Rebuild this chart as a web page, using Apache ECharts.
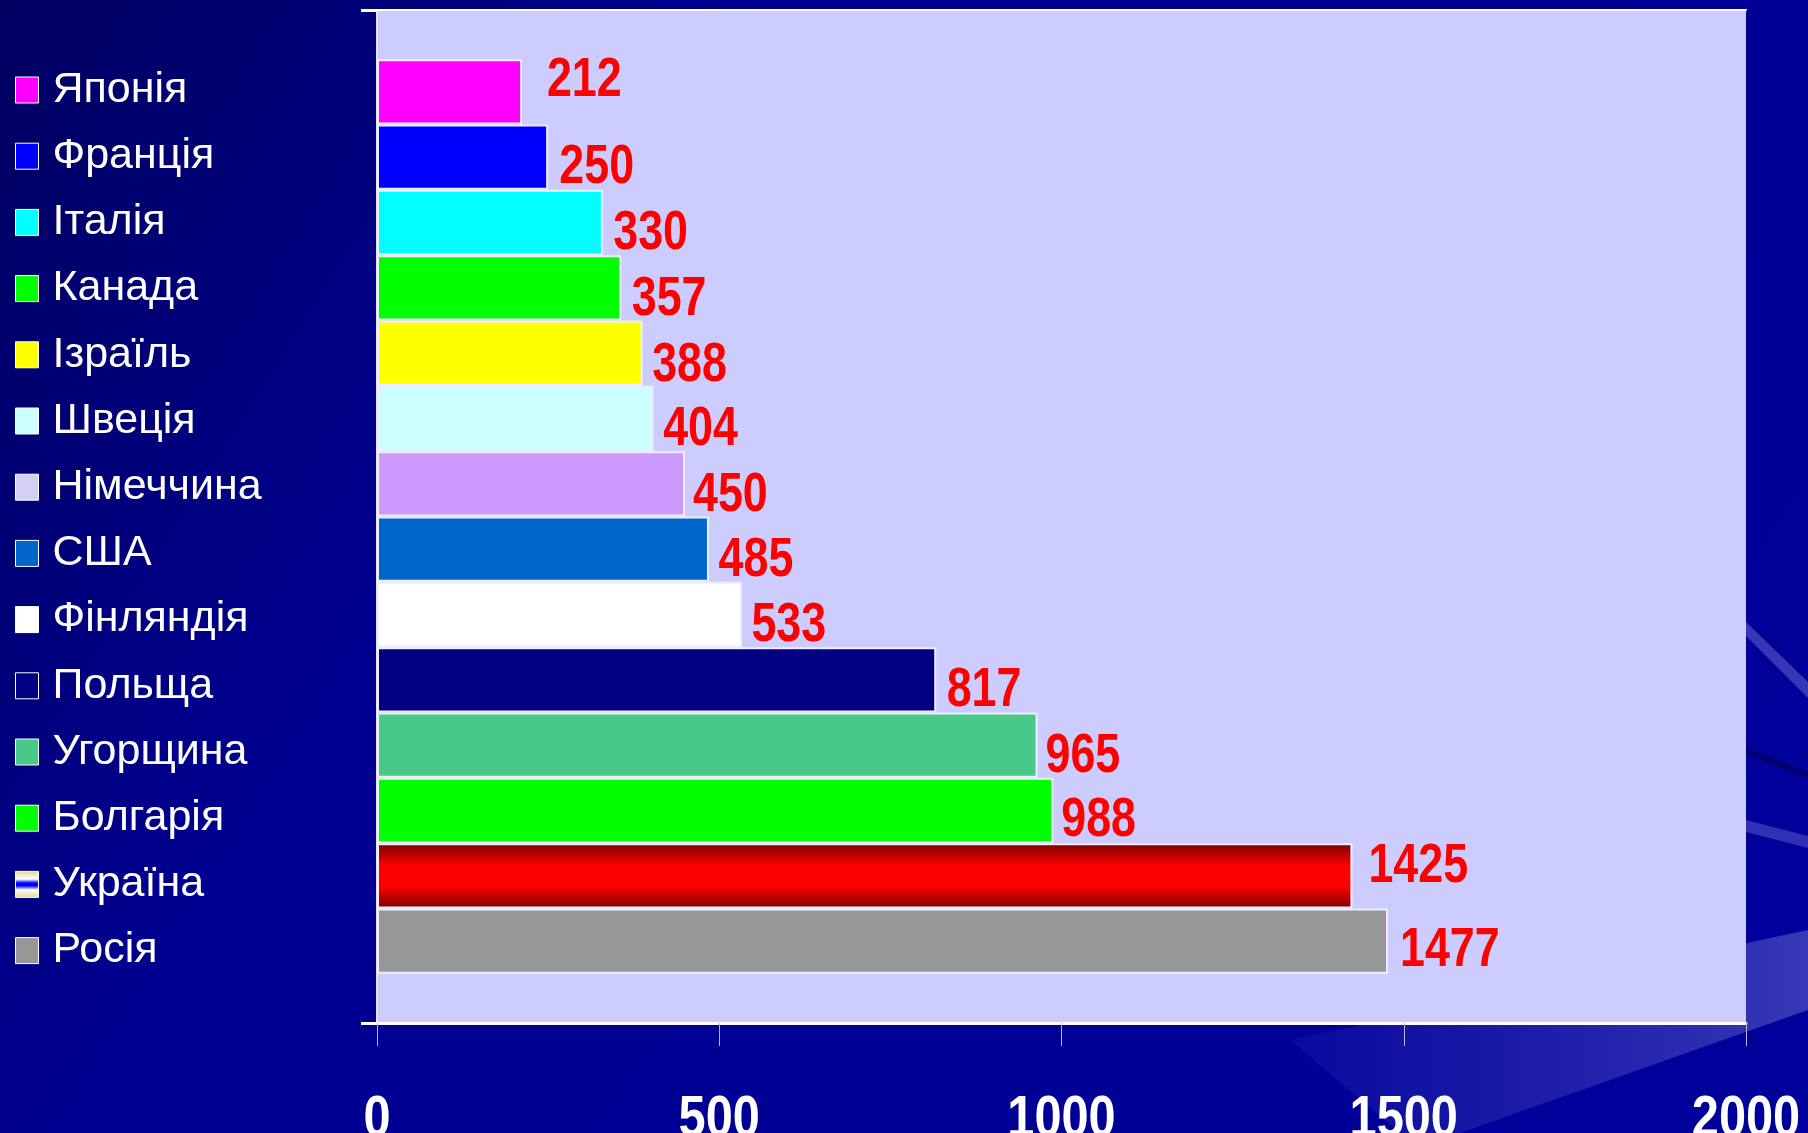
<!DOCTYPE html>
<html>
<head>
<meta charset="utf-8">
<style>
  html, body { margin: 0; padding: 0; background: #000099; }
  #chart { width: 1808px; height: 1133px; }
</style>
<script src="https://cdn.jsdelivr.net/npm/echarts@6/dist/echarts.min.js"></script>
</head>
<body>
<div id="chart"></div>
<script>
// ---- data ----
const countries = ['Японія', 'Франція', 'Італія', 'Канада', 'Ізраїль', 'Швеція', 'Німеччина',
  'США', 'Фінляндія', 'Польща', 'Угорщина', 'Болгарія', 'Україна', 'Росія'];
const values = [212, 250, 330, 357, 388, 404, 450, 485, 533, 817, 965, 988, 1425, 1477];
const xTicks = [0, 500, 1000, 1500, 2000];

// ---- styles ----
const barColors = ['#FF00FF', '#0000FF', '#00FFFF', '#00FF00', '#FFFF00', '#CCFFFF', '#CC99FF',
  '#0066CC', '#FFFFFF', '#000080', '#49C988', '#00FF00', 'UKR', '#969696'];
const labelNudge = [[31, -11], [14, 10], [13, 11], [13, 12], [12, 12], [12, 11], [10, 12],
  [12, 11], [12, 11], [13, 11], [10, 11], [10, 10], [20, -9], [15, 9]];

const ukraineBar = new echarts.graphic.LinearGradient(0, 0, 0, 1, [
  { offset: 0, color: '#7a0000' }, { offset: 0.35, color: '#ff0000' },
  { offset: 0.65, color: '#ff0000' }, { offset: 1, color: '#7a0000' }]);
const ukraineIcon = new echarts.graphic.LinearGradient(0, 0, 0, 1, [
  { offset: 0, color: '#d8d890' }, { offset: 0.3, color: '#ffffff' },
  { offset: 0.45, color: '#0000ff' }, { offset: 0.55, color: '#0000ff' },
  { offset: 0.7, color: '#ffffff' }, { offset: 1, color: '#d8d890' }]);

const boldFont = "'Liberation Sans', Arial, sans-serif";

const series = countries.map((name, i) => ({
  name: name,
  type: 'bar',
  data: [values[i]],
  barGap: '0%',
  barCategoryGap: '9.7%',
  itemStyle: {
    color: barColors[i] === 'UKR' ? ukraineBar : barColors[i],
    borderColor: '#eeeeff',
    borderWidth: 2
  },
  label: {
    show: true,
    position: 'right',
    distance: 0,
    offset: labelNudge[i],
    color: '#ff0000',
    fontFamily: boldFont,
    fontWeight: 'bold',
    fontSize: 56
  }
}));

const legendData = countries.map((name) => {
  const d = { name: name };
  if (name === 'Україна') d.itemStyle = { color: ukraineIcon };
  if (name === 'Німеччина') d.itemStyle = { color: '#d4d0f4' };
  return d;
});

const chart = echarts.init(document.getElementById('chart'), null, { renderer: 'canvas' });
chart.setOption({
  backgroundColor: new echarts.graphic.LinearGradient(0, 0, 1, 1, [
    { offset: 0, color: '#000060' }, { offset: 0.3, color: '#000090' },
    { offset: 1, color: '#00009c' }]),
  animation: false,
  graphic: [
    { type: 'polygon', z: -10, silent: true,
      shape: { points: [[1290, 1040], [1808, 930], [1808, 1010], [1460, 1133], [1400, 1133]] },
      style: { fill: new echarts.graphic.LinearGradient(0, 0, 1, 0, [
        { offset: 0, color: 'rgba(80,80,200,0.12)' }, { offset: 1, color: 'rgba(110,110,210,0.5)' }]) } },
    { type: 'polygon', z: -10, silent: true,
      shape: { points: [[1746, 622], [1808, 682], [1808, 698], [1746, 636]] },
      style: { fill: 'rgba(120,120,220,0.45)' } },
    { type: 'polygon', z: -10, silent: true,
      shape: { points: [[1746, 748], [1808, 772], [1808, 778], [1746, 754]] },
      style: { fill: 'rgba(0,0,80,0.6)' } },
    { type: 'polygon', z: -10, silent: true,
      shape: { points: [[1746, 820], [1808, 836], [1808, 848], [1746, 832]] },
      style: { fill: 'rgba(120,120,220,0.4)' } }
  ],
  legend: {
    orient: 'vertical',
    left: 10,
    top: 63,
    icon: 'rect',
    itemWidth: 23,
    itemHeight: 26,
    itemGap: 22.2,
    padding: 5,
    data: legendData,
    selectedMode: false,
    itemStyle: { borderColor: '#ffffff', borderWidth: 1 },
    textStyle: {
      color: '#ffffff',
      fontFamily: "'Liberation Sans', Arial, sans-serif",
      fontSize: 43,
      lineHeight: 44,
      padding: [0, 0, 0, 9]
    }
  },
  grid: {
    left: 377, right: 62, top: 10, bottom: 110,
    outerBoundsMode: 'none',
    containLabel: false,
    show: true,
    backgroundColor: '#ccccff',
    borderColor: 'transparent',
    borderWidth: 0
  },
  xAxis: [{
    type: 'value',
    min: xTicks[0],
    max: xTicks[xTicks.length - 1],
    interval: xTicks[1] - xTicks[0],
    splitLine: { show: false },
    axisLine: { show: true, lineStyle: { color: '#ffffff', width: 3 } },
    axisTick: { show: true, length: 23, lineStyle: { color: '#b8b8c8', width: 1 } },
    axisLabel: {
      color: '#ffffff',
      fontFamily: boldFont,
      fontWeight: 'bold',
      fontSize: 58,
      margin: 68,
      formatter: (v) => String(v)
    }
  }, {
    type: 'value',
    position: 'top',
    min: xTicks[0],
    max: xTicks[xTicks.length - 1],
    splitLine: { show: false },
    axisLine: { show: true, lineStyle: { color: '#ffffff', width: 2 } },
    axisTick: { show: false },
    axisLabel: { show: false }
  }],
  yAxis: [{
    type: 'category',
    data: [''],
    axisLine: { show: false },
    axisTick: { show: true, length: 16, lineStyle: { color: '#ffffff', width: 3 } },
    axisLabel: { show: false }
  }, {
    type: 'category',
    position: 'right',
    data: [''],
    axisLine: { show: true, lineStyle: { color: '#e4e4ee', width: 2 } },
    axisTick: { show: false },
    axisLabel: { show: false }
  }],
  series: series
});

// The reference uses a narrow bold face: condense the value labels and axis labels horizontally.
try {
  const model = chart.getModel();
  countries.forEach((_, i) => {
    const el = model.getSeriesByIndex(i).getData().getItemGraphicEl(0);
    const t = el && el.getTextContent && el.getTextContent();
    if (t) {
      t.scaleX = 0.8;
      t.originX = 0;
      t.originY = 0;
      t.markRedraw();
    }
  });
  const tickTexts = xTicks.map(String);
  chart.getZr().storage.getRoots().forEach((root) => {
    const visit = (el) => {
      if (el.type === 'text' && el.style && el.style.fill && String(el.style.fill).toLowerCase() === '#ffffff'
          && tickTexts.indexOf(String(el.style.text)) >= 0) {
        el.scaleX = 0.84;
        el.originX = 0;
        el.originY = 0;
        el.markRedraw();
      }
    };
    visit(root);
    if (root.traverse) root.traverse(visit);
  });
  chart.getZr().refreshImmediately();
} catch (e) { /* keep default labels */ }
</script>
</body>
</html>
